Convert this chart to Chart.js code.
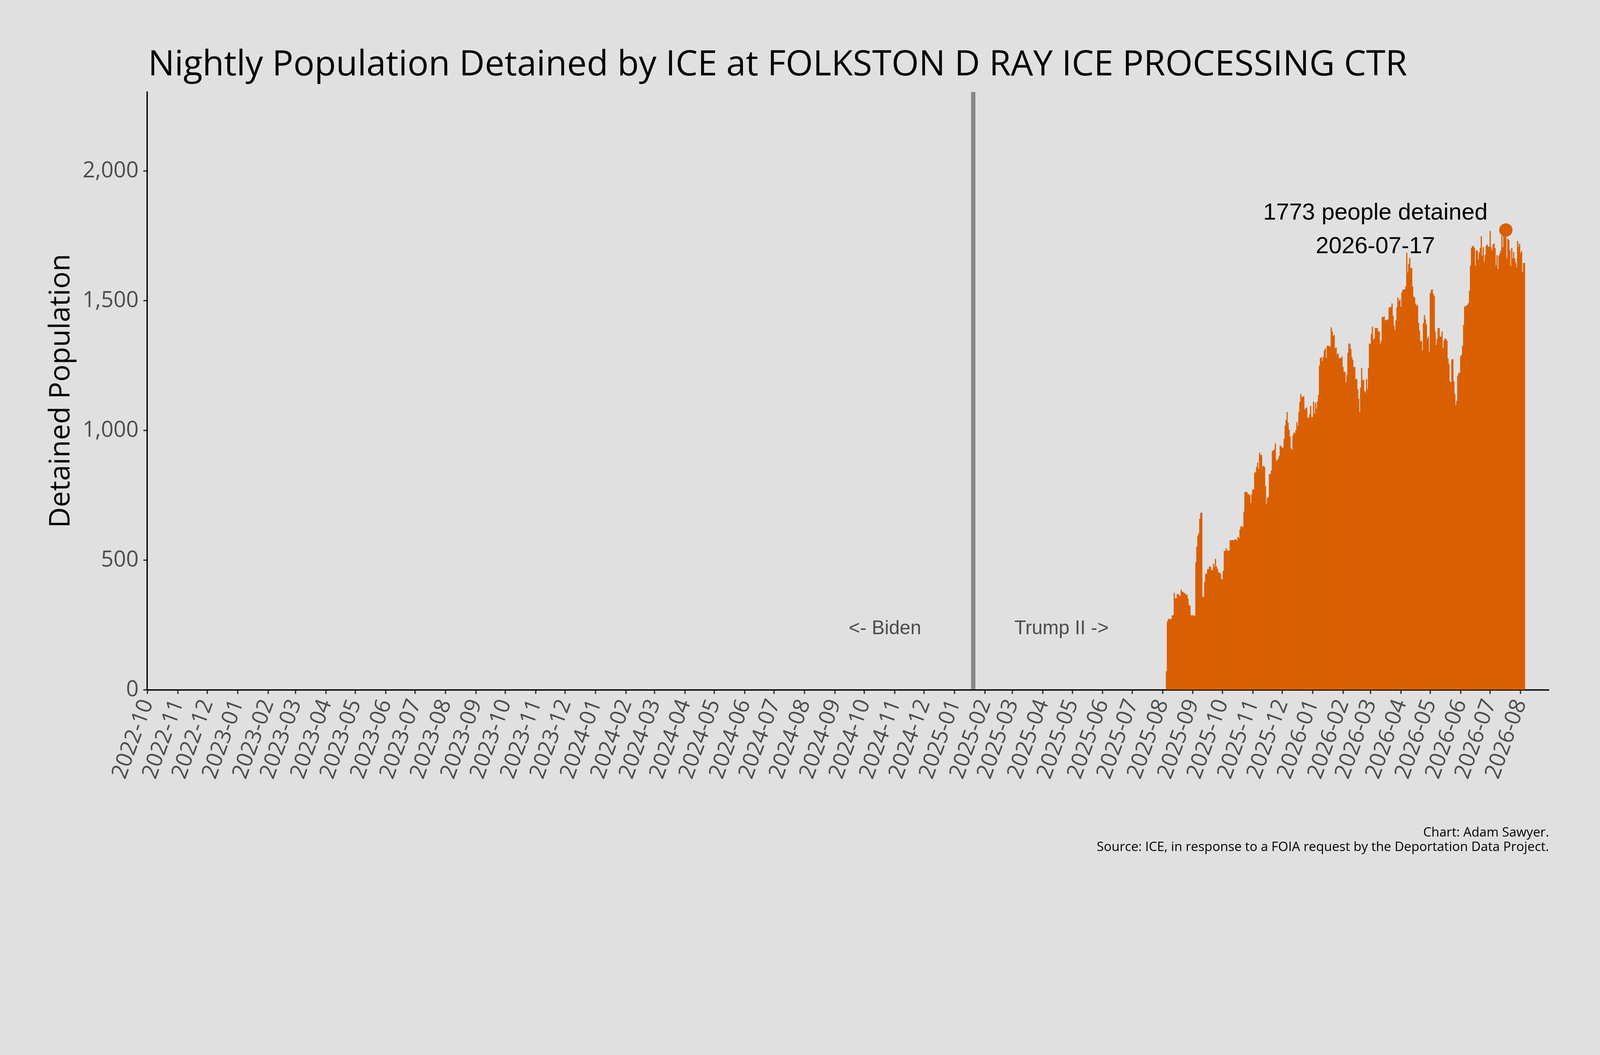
<!DOCTYPE html>
<html>
<head>
<meta charset="utf-8">
<title>Nightly Population Detained by ICE at FOLKSTON D RAY ICE PROCESSING CTR</title>
<script src="https://cdn.jsdelivr.net/npm/chart.js@4.4.1/dist/chart.umd.min.js"></script>
<style>
	html, body { margin: 0; padding: 0; background: #e0e0e0; overflow: hidden; }
	#wrap { width: 100vw; height: 100vh; position: relative; }
</style>
</head>
<body>
<div id="wrap"><canvas id="c"></canvas></div>
<script>
// nightly counts, one per day starting at firstDate
var firstDate = '2025-08-05';
var nightlyPop = [
	72, 264, 273, 273, 273, 273, 288, 288, 374, 353,
	353, 369, 369, 364, 362, 387, 378, 378, 373, 373,
	367, 367, 352, 327, 324, 288, 288, 288, 286, 286,
	492, 552, 595, 604, 660, 683, 683, 359, 359, 416,
	448, 448, 466, 466, 477, 473, 462, 462, 487, 473,
	505, 476, 467, 453, 453, 447, 429, 425, 459, 536,
	536, 546, 537, 537, 537, 577, 577, 577, 577, 577,
	580, 580, 576, 590, 585, 619, 631, 631, 627, 687,
	763, 763, 763, 755, 755, 750, 720, 754, 773, 773,
	836, 841, 860, 877, 852, 914, 906, 906, 860, 864,
	859, 787, 716, 740, 744, 832, 832, 846, 920, 924,
	926, 950, 883, 886, 892, 902, 942, 938, 933, 934,
	968, 1019, 1041, 1071, 1030, 1003, 977, 931, 926, 982,
	992, 990, 1001, 1032, 1019, 1071, 1110, 1141, 1127, 1131,
	1132, 1081, 1086, 1089, 1049, 1049, 1063, 1095, 1052, 1052,
	1112, 1066, 1107, 1084, 1112, 1137, 1250, 1279, 1283, 1268,
	1284, 1308, 1317, 1279, 1327, 1326, 1326, 1322, 1398, 1382,
	1364, 1369, 1317, 1320, 1293, 1297, 1279, 1280, 1279, 1285,
	1245, 1226, 1226, 1185, 1214, 1299, 1335, 1335, 1315, 1282,
	1272, 1245, 1245, 1198, 1198, 1159, 1123, 1072, 1166, 1241,
	1195, 1195, 1152, 1146, 1199, 1159, 1241, 1335, 1335, 1372,
	1400, 1351, 1355, 1395, 1395, 1395, 1382, 1382, 1335, 1346,
	1437, 1437, 1440, 1426, 1424, 1428, 1428, 1473, 1476, 1476,
	1490, 1443, 1405, 1387, 1425, 1475, 1513, 1499, 1505, 1477,
	1532, 1542, 1544, 1544, 1556, 1685, 1609, 1642, 1666, 1626,
	1627, 1555, 1516, 1513, 1489, 1480, 1485, 1415, 1386, 1345,
	1345, 1310, 1414, 1445, 1428, 1409, 1353, 1362, 1303, 1530,
	1542, 1544, 1527, 1519, 1382, 1330, 1353, 1395, 1395, 1362,
	1362, 1382, 1318, 1346, 1354, 1354, 1346, 1278, 1256, 1190,
	1185, 1274, 1275, 1190, 1140, 1099, 1115, 1211, 1222, 1222,
	1287, 1292, 1326, 1407, 1477, 1481, 1481, 1485, 1491, 1539,
	1636, 1704, 1711, 1711, 1704, 1637, 1695, 1693, 1660, 1687,
	1704, 1749, 1674, 1707, 1651, 1678, 1712, 1717, 1709, 1709,
	1770, 1706, 1695, 1717, 1721, 1703, 1638, 1676, 1623, 1674,
	1683, 1694, 1751, 1707, 1749, 1745, 1773, 1664, 1740, 1735,
	1695, 1634, 1704, 1664, 1688, 1664, 1647, 1629, 1731, 1709,
	1721, 1684, 1692, 1612, 1646, 1646
];

var monthLabels = [
	'2022-10', '2022-11', '2022-12',
	'2023-01', '2023-02', '2023-03', '2023-04', '2023-05', '2023-06',
	'2023-07', '2023-08', '2023-09', '2023-10', '2023-11', '2023-12',
	'2024-01', '2024-02', '2024-03', '2024-04', '2024-05', '2024-06',
	'2024-07', '2024-08', '2024-09', '2024-10', '2024-11', '2024-12',
	'2025-01', '2025-02', '2025-03', '2025-04', '2025-05', '2025-06',
	'2025-07', '2025-08', '2025-09', '2025-10', '2025-11', '2025-12',
	'2026-01', '2026-02', '2026-03', '2026-04', '2026-05', '2026-06',
	'2026-07', '2026-08'
];
var yTicks = [0, 500, 1000, 1500, 2000];

var axisStart = '2022-10-01';
var axisEnd = '2026-08-30';
var inaugDate = '2025-01-20';
var eraLabels = ['<- Biden', 'Trump II ->'];

var orange = '#d95f02';

// layout was measured on a 4800 px wide picture; scale to the real viewport
var W = window.innerWidth, H = window.innerHeight;
var s = W / 4800;
function px(v) { return v * s; }
function font(size, fam) { return px(size) + 'px "' + fam + '"'; }

function dayOf(d) {
	var p = d.split('-');
	return (Date.UTC(+p[0], +p[1] - 1, +p[2]) - Date.UTC(2022, 9, 1)) / 86400000;
}
function dateOf(n) {
	var t = new Date(Date.UTC(2022, 9, 1) + n * 86400000);
	return t.toISOString().slice(0, 10);
}

var startDay = dayOf(firstDate);
var points = [];
var peakIdx = 0;
for (var i = 0; i < nightlyPop.length; i++) {
	points.push({ x: startDay + i, y: nightlyPop[i] });
	if (nightlyPop[i] > nightlyPop[peakIdx]) peakIdx = i;
}
var peakDay = startDay + peakIdx;
var peakVal = nightlyPop[peakIdx];

var tickMap = {};
monthLabels.forEach(function(m) { tickMap[dayOf(m + '-01')] = m; });

var decor = {
	id: 'decor',
	beforeDraw: function(chart) {
		var ctx = chart.ctx;
		ctx.save();
		ctx.fillStyle = '#e0e0e0';
		ctx.fillRect(0, 0, chart.width, chart.height);
		ctx.restore();
	},
	afterDraw: function(chart) {
		var ctx = chart.ctx;
		var xs = chart.scales.x, ys = chart.scales.y;
		var area = chart.chartArea;
		ctx.save();

		// inauguration line
		var lx = xs.getPixelForValue(dayOf(inaugDate));
		ctx.strokeStyle = '#888888';
		ctx.lineWidth = px(13);
		ctx.beginPath();
		ctx.moveTo(lx, area.top);
		ctx.lineTo(lx, area.bottom - px(2));
		ctx.stroke();

		ctx.textAlign = 'center';
		ctx.textBaseline = 'middle';
		ctx.fillStyle = '#4d4d4d';
		ctx.font = font(58, 'Liberation Sans');
		var ey = ys.getPixelForValue(235);
		ctx.fillText(eraLabels[0], xs.getPixelForValue(dayOf(inaugDate) - 90), ey);
		ctx.fillText(eraLabels[1], xs.getPixelForValue(dayOf(inaugDate) + 90), ey);

		// peak label
		ctx.fillStyle = '#000';
		ctx.font = font(70, 'Liberation Sans');
		var ax = xs.getPixelForValue(peakDay - 133);
		ctx.fillText(peakVal + ' people detained', ax, ys.getPixelForValue(1838));
		ctx.fillText(dateOf(peakDay), ax, ys.getPixelForValue(1709));

		// title
		ctx.textAlign = 'left';
		ctx.font = font(105.5, 'Open Sans');
		ctx.fillText('Nightly Population Detained by ICE at FOLKSTON D RAY ICE PROCESSING CTR', area.left + px(2), px(196));

		// y axis title
		ctx.save();
		ctx.translate(px(184), (area.top + area.bottom) / 2);
		ctx.rotate(-Math.PI / 2);
		ctx.textAlign = 'center';
		ctx.font = font(86, 'Open Sans');
		ctx.fillText('Detained Population', 0, 0);
		ctx.restore();

		// caption
		ctx.textAlign = 'right';
		ctx.font = font(39, 'Open Sans');
		ctx.fillText('Chart: Adam Sawyer.', area.right, px(2498));
		ctx.fillText('Source: ICE, in response to a FOIA request by the Deportation Data Project.', area.right, px(2541));

		ctx.restore();
	}
};

function draw() {
	var ctx = document.getElementById('c').getContext('2d');
	new Chart(ctx, {
		type: 'bar',
		data: {
			datasets: [{
				type: 'scatter',
				data: [{ x: peakDay, y: peakVal }],
				pointRadius: px(20),
				pointHoverRadius: px(20),
				backgroundColor: orange,
				borderWidth: 0,
				order: 0
			}, {
				type: 'bar',
				data: points,
				backgroundColor: orange,
				borderWidth: 0,
				barPercentage: 1.25,
				categoryPercentage: 1,
				order: 1
			}]
		},
		options: {
			responsive: true,
			maintainAspectRatio: false,
			animation: false,
			layout: { padding: { top: px(276), right: px(153), bottom: 0, left: 0 } },
			plugins: {
				legend: { display: false },
				tooltip: { enabled: false },
				title: { display: false }
			},
			scales: {
				x: {
					type: 'linear',
					min: dayOf(axisStart),
					max: dayOf(axisEnd),
					offset: false,
					grid: { display: true, drawOnChartArea: false, drawTicks: true, tickLength: px(12), tickWidth: px(4), tickColor: '#333333', offset: false },
					border: { display: true, color: '#000000', width: px(4) },
					ticks: {
						autoSkip: false,
						minRotation: 70,
						maxRotation: 70,
						padding: px(6),
						color: '#4d4d4d',
						font: { family: 'Open Sans', size: px(66) },
						callback: function(v) { return tickMap[v] || ''; }
					},
					afterBuildTicks: function(sc) {
						sc.ticks = monthLabels.map(function(m) { return { value: dayOf(m + '-01') }; });
					},
					afterFit: function(sc) { sc.height = H - px(2069); }
				},
				y: {
					min: 0,
					max: 2305,
					grid: { display: true, drawOnChartArea: false, drawTicks: true, tickLength: px(12), tickWidth: px(4), tickColor: '#333333' },
					border: { display: true, color: '#000000', width: px(4) },
					ticks: {
						padding: px(14),
						color: '#4d4d4d',
						font: { family: 'Open Sans', size: px(66) },
						callback: function(v) { return v.toLocaleString('en-US'); }
					},
					afterBuildTicks: function(sc) {
						sc.ticks = yTicks.map(function(v) { return { value: v }; });
					},
					afterFit: function(sc) { sc.width = px(442); }
				}
			}
		},
		plugins: [decor]
	});
}

Promise.all([
	document.fonts.load('66px "Open Sans"'),
	document.fonts.load('70px "Liberation Sans"')
]).then(draw, draw);
</script>
</body>
</html>
